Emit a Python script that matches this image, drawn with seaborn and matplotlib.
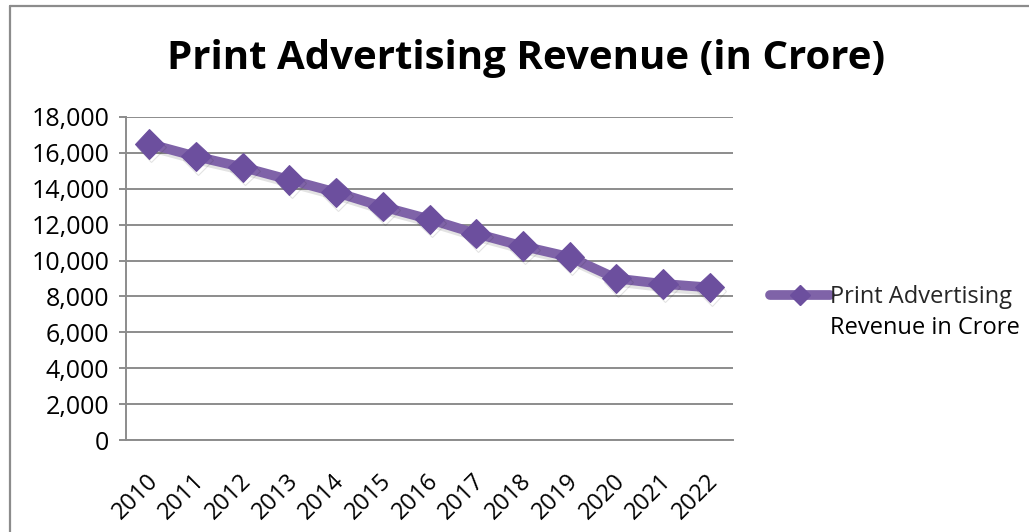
import matplotlib
matplotlib.use("Agg")
import matplotlib.pyplot as plt
import seaborn as sns
import pandas as pd
from matplotlib.ticker import FuncFormatter, MultipleLocator
from matplotlib.lines import Line2D
from matplotlib.transforms import ScaledTranslation
import matplotlib.patheffects as pe

years = ["2010", "2011", "2012", "2013", "2014", "2015", "2016",
         "2017", "2018", "2019", "2020", "2021", "2022"]
revenue = [16500, 15800, 15200, 14500, 13800, 13000, 12300,
           11500, 10800, 10200, 9000, 8700, 8500]
legend_line1 = "Print Advertising"
legend_line2 = "Revenue in Crore"
title = "Print Advertising Revenue (in Crore)"

df = pd.DataFrame({"Year": years, "Revenue": revenue})

sns.set_theme(style="white")
plt.rcParams['font.family'] = ['Open Sans', 'DejaVu Sans']

W, H = 1029, 532
fig = plt.figure(figsize=(W / 100, H / 100), dpi=100)
ax = fig.add_axes([126 / W, 1 - 440 / H, (733 - 126) / W, (440 - 117) / H])

line_c = "#7f63a8"
mark_c = "#6c4f9e"
sns.lineplot(data=df, x="Year", y="Revenue", ax=ax, color=line_c,
             linewidth=7, marker="D", markersize=15,
             markerfacecolor=mark_c, markeredgecolor=mark_c,
             solid_capstyle="round", legend=False,
             path_effects=[pe.SimpleLineShadow(offset=(1.5, -2.5), alpha=0.12), pe.Normal()])

ax.set_xlim(-0.5, len(years) - 0.5)
ax.set_ylim(0, 18000)
ax.yaxis.set_major_locator(MultipleLocator(2000))
ax.yaxis.set_major_formatter(FuncFormatter(lambda v, p: f"{int(v):,}"))
ax.grid(axis="y", color="#8c8c8c", linewidth=1.4)
ax.set_axisbelow(True)
ax.set_xlabel("")
ax.set_ylabel("")

for s in ["top", "right"]:
    ax.spines[s].set_visible(False)
for s in ["left", "bottom"]:
    ax.spines[s].set_color("#8c8c8c")
    ax.spines[s].set_linewidth(1.4)

ax.tick_params(axis="y", labelsize=18, colors="black", left=True, length=5,
               color="#8c8c8c", width=1.4, pad=7)
ax.tick_params(axis="x", labelsize=17, colors="black", bottom=False, pad=21)
shift = ScaledTranslation(5 / 100, 0, fig.dpi_scale_trans)
for lab in ax.get_xticklabels():
    lab.set_rotation(45)
    lab.set_ha("right")
    lab.set_va("center")
    lab.set_rotation_mode("anchor")
    lab.set_transform(lab.get_transform() + shift)

fig.text(526 / W, 1 - 59 / H, title, ha="center", va="center",
         fontsize=29, fontweight="bold", color="black")

handle = Line2D([], [], color=line_c, linewidth=7, marker="D", markersize=10,
                markerfacecolor=mark_c, markeredgecolor=mark_c,
                solid_capstyle="round")
leg = fig.legend([handle], [legend_line1], loc="center left",
                 bbox_to_anchor=(770 / W, 1 - 297 / H), bbox_transform=fig.transFigure,
                 frameon=False, fontsize=17, handlelength=2.55, handletextpad=0.0,
                 borderpad=0, borderaxespad=0)
fig.text(830 / W, 1 - 328 / H, legend_line2, ha="left", va="center",
         fontsize=17, color="black")

fig.add_artist(Line2D([9.5 / W, 1], [1 - 5.5 / H, 1 - 5.5 / H],
                      transform=fig.transFigure, color="#8c8c8c", linewidth=1.6))
fig.add_artist(Line2D([9.5 / W, 9.5 / W], [1 - 5.5 / H, 0],
                      transform=fig.transFigure, color="#8c8c8c", linewidth=1.6))

fig.savefig("out.png", dpi=100)
